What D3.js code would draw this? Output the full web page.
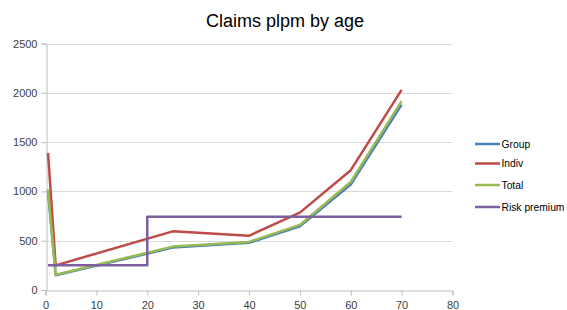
<!DOCTYPE html>
<html><head><meta charset="utf-8">
<script src="https://cdn.jsdelivr.net/npm/d3@7"></script>
<style>body{margin:0;background:#fff}svg{display:block}</style>
</head><body>
<script>
const ages = [0.5, 2, 25, 40, 50, 60, 70];
const group = [1000, 150, 430, 478, 645, 1070, 1880];
const indiv = [1390, 250, 595, 550, 785, 1215, 2030];
const total = [1020, 155, 440, 488, 660, 1095, 1915];
const riskAges = [0.5, 20, 20, 70];
const riskPremium = [250, 250, 742, 742];
const seriesNames = ["Group", "Indiv", "Total", "Risk premium"];
const colors = ["#4A7EBB", "#BE4B48", "#98B954", "#7D5FA0"];
const xTicks = [0,10,20,30,40,50,60,70,80];
const yTicks = [0,500,1000,1500,2000,2500];

const W = 567, H = 310;
const svg = d3.select("body").append("svg").attr("width", W).attr("height", H);
const x = d3.scaleLinear().domain([0,80]).range([45.5, 452.5]);
const y = d3.scaleLinear().domain([0,2500]).range([290, 43.5]);

// gridlines
svg.append("g").selectAll("line").data(yTicks.filter(d=>d>0)).join("line")
  .attr("x1", x(0)).attr("x2", x(80)).attr("y1", d=>Math.round(y(d))+0.5).attr("y2", d=>Math.round(y(d))+0.5)
  .attr("stroke", "#d9d9d9").attr("stroke-width", 1);

// x axis
const xa = svg.append("g").attr("transform", `translate(0,${Math.round(y(0))+0.5})`)
  .call(d3.axisBottom(x).tickValues(xTicks).tickSize(5).tickPadding(4).tickFormat(d3.format("d")));
// y axis
const ya = svg.append("g").attr("transform", `translate(${Math.round(x(0))+0.5},0)`)
  .call(d3.axisLeft(y).tickValues(yTicks).tickSize(5).tickPadding(4).tickFormat(d3.format("d")));
[xa, ya].forEach(a => {
  a.select(".domain").attr("stroke", "#bfbfbf");
  a.selectAll(".tick line").attr("stroke", "#bfbfbf");
  a.selectAll(".tick text").attr("fill", "#404040").style("font-family", "Liberation Sans, Arial, sans-serif").style("font-size", "11px");
});
xa.selectAll(".tick text").attr("dy", "0.9em");

const line = d3.line().x(d=>x(d[0])).y(d=>y(d[1]));
const data = [
  ages.map((a,i)=>[a, group[i]]),
  ages.map((a,i)=>[a, indiv[i]]),
  ages.map((a,i)=>[a, total[i]]),
  riskAges.map((a,i)=>[a, riskPremium[i]])
];
svg.append("g").selectAll("path").data(data).join("path")
  .attr("d", line).attr("fill", "none")
  .attr("stroke", (d,i)=>colors[i]).attr("stroke-width", 2.5)
  .attr("stroke-linejoin", "round");

// title
svg.append("text").attr("x", 285).attr("y", 27).attr("text-anchor", "middle")
  .style("font-family", "Liberation Sans, Arial, sans-serif").style("font-size", "18px").attr("fill", "#000")
  .text("Claims plpm by age");

// legend
const lg = svg.append("g").selectAll("g").data(seriesNames).join("g")
  .attr("transform", (d,i)=>`translate(475,${[144,163.5,185,207][i]})`);
lg.append("line").attr("x1",0).attr("x2",25).attr("stroke",(d,i)=>colors[i]).attr("stroke-width",2.5);
lg.append("text").attr("x", 26.5).attr("dy", "0.35em").text(d=>d)
  .style("font-family", "Liberation Sans, Arial, sans-serif").style("font-size", "10.3px").attr("fill", "#000");
</script>
</body></html>
